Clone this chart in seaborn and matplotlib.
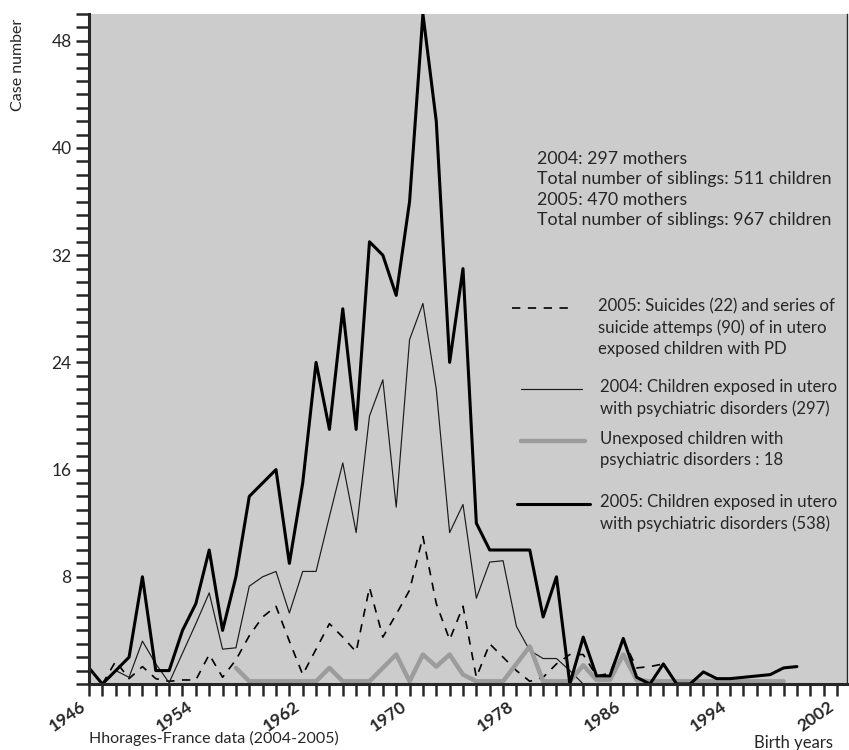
import matplotlib
matplotlib.use("Agg")
import matplotlib.pyplot as plt
from matplotlib.lines import Line2D
from matplotlib.ticker import FixedLocator, MultipleLocator
from matplotlib.transforms import ScaledTranslation
import seaborn as sns

# --- data (case numbers per birth year) ---
years_2005 = list(range(1946, 2000))
exposed_2005 = [1.2, 0, 1, 2, 8, 1, 1, 4, 6, 10,
                4, 8, 14, 15, 16, 9, 15, 24, 19, 28,
                19, 33, 32, 29, 36, 50, 42, 24, 31, 12,
                10, 10, 10, 10, 5, 8, 0, 3.5, 0.6, 0.6,
                3.4, 0.5, 0, 1.5, 0, 0, 0.9, 0.4, 0.4, 0.5,
                0.6, 0.7, 1.2, 1.3]

years_2004 = list(range(1947, 1984))
exposed_2004 = [0, 1.0, 0.5, 3.2, 1.5, 0.1, 2.3, 4.5, 6.8, 2.6,
                2.7, 7.3, 8.0, 8.4, 5.3, 8.4, 8.4, 12.5, 16.5, 11.3,
                20, 22.7, 13.2, 25.7, 28.4, 22, 11.3, 13.4, 6.4, 9.1,
                9.2, 4.3, 2.5, 1.9, 1.9, 1.0, 0]

years_suicide = list(range(1947, 1990))
suicides_2005 = [0, 1.7, 0.4, 1.3, 0.4, 0.2, 0.3, 0.3, 2.2, 0.5,
                 1.8, 3.6, 5.0, 5.8, 3.2, 0.7, 2.6, 4.5, 3.5, 2.4,
                 7.2, 3.5, 5.2, 7.0, 11.0, 6.0, 3.3, 5.8, 0.5, 3.0,
                 2.0, 1.0, 0.2, 0.5, 1.5, 2.2, 2.2, 0.6, 0.8, 3.3,
                 1.2, 1.3, 1.5]

years_unexposed = list(range(1957, 1999))
unexposed = [1.2, 0.2, 0.2, 0.2, 0.2, 0.2, 0.2, 1.2, 0.2, 0.2,
             0.2, 1.2, 2.2, 0.2, 2.2, 1.3, 2.2, 0.7, 0.2, 0.2,
             0.2, 1.5, 2.8, 0.2, 0.2, 0.2, 1.4, 0.3, 0.3, 2.2,
             0.3, 0.2, 0.2, 0.2, 0.2, 0.2, 0.2, 0.2, 0.2, 0.2, 0.2, 0.2]

xtick_years = [1946, 1954, 1962, 1970, 1978, 1986, 1994, 2002]
ytick_values = [8, 16, 24, 32, 40, 48]

info_lines = ["2004: 297 mothers",
              "Total number of siblings: 511 children",
              "2005: 470 mothers",
              "Total number of siblings: 967 children"]
label_suicide = "2005: Suicides (22) and series of\nsuicide attemps (90) of in utero\nexposed children with PD"
label_2004 = "2004: Children exposed in utero\nwith psychiatric disorders (297)"
label_unexp = "Unexposed children with\npsychiatric disorders : 18"
label_2005 = "2005: Children exposed in utero\nwith psychiatric disorders (538)"

sns.set_style("ticks", {"axes.facecolor": "#cccccc"})
plt.rcParams["font.family"] = ["Lato", "DejaVu Sans"]

W, H = 849, 750
fig = plt.figure(figsize=(W / 100, H / 100), dpi=100)
ax = fig.add_axes([89 / W, 66 / H, 758 / W, 670 / H])

dash = (0, (5, 4.5))
sns.lineplot(x=years_suicide, y=suicides_2005, ax=ax, color="black", lw=1.2, linestyle=dash)
sns.lineplot(x=years_2004, y=exposed_2004, ax=ax, color="#1a1a1a", lw=0.85)
sns.lineplot(x=years_unexposed, y=unexposed, ax=ax, color="#9c9c9c", lw=3.2)
sns.lineplot(x=years_2005, y=exposed_2005, ax=ax, color="black", lw=2.2)

ax.set_xlim(1946, 2002.75)
ax.set_ylim(0, 50)

ax.xaxis.set_major_locator(FixedLocator(xtick_years))
ax.xaxis.set_minor_locator(MultipleLocator(1))
ax.yaxis.set_major_locator(FixedLocator(ytick_values))
ax.yaxis.set_minor_locator(MultipleLocator(1))
ax.set_xticklabels([str(y) for y in xtick_years], rotation=35, ha="right",
                   fontsize=12.5, fontweight="bold")
ax.set_yticklabels([str(v) for v in ytick_values], fontsize=12.5)
for lab in ax.get_xticklabels():
    lab.set_transform(lab.get_transform() + ScaledTranslation(8 / 100, 2 / 100, fig.dpi_scale_trans))

ax.tick_params(axis="y", which="both", direction="out", length=9.5, width=1.8, pad=3)
ax.tick_params(axis="x", which="both", direction="out", length=8.5, width=1.8, pad=2)

ax.spines["top"].set_visible(False)
ax.spines["left"].set_linewidth(2.2)
ax.spines["bottom"].set_linewidth(2.2)
ax.spines["right"].set_linewidth(1.0)
ax.set_xlabel("")
ax.set_ylabel("")

# axis captions
fig.text(18 / W, 1 - 65 / H, "Case number", rotation=90, ha="center", va="center", fontsize=11.5)
fig.text(89 / W, 1 - 738 / H, "Hhorages-France data (2004-2005)", ha="left", va="center", fontsize=11.5)
fig.text(794 / W, 1 - 743 / H, "Birth years", ha="center", va="center", fontsize=12)

# info block
fig.text(537 / W, 1 - 189.5 / H, "\n".join(info_lines), ha="left", va="center",
         fontsize=12.8, linespacing=1.35)

# legend keys and texts
keys = [
    (512, 573, 308, dict(color="black", lw=1.2, linestyle=dash), 598, label_suicide),
    (521, 582, 389, dict(color="#1a1a1a", lw=0.85), 600, label_2004),
    (521, 585, 441, dict(color="#9c9c9c", lw=3.2), 600, label_unexp),
    (517, 590, 504, dict(color="black", lw=2.2), 600, label_2005),
]
for x0, x1, yk, style, xt, txt in keys:
    fig.add_artist(Line2D([x0 / W, x1 / W], [1 - yk / H, 1 - yk / H],
                          transform=fig.transFigure, **style))
    fig.text(xt / W, 1 - (yk - 10) / H, txt, ha="left", va="top", fontsize=12.1, linespacing=1.38)

fig.savefig("out.png", dpi=100)
